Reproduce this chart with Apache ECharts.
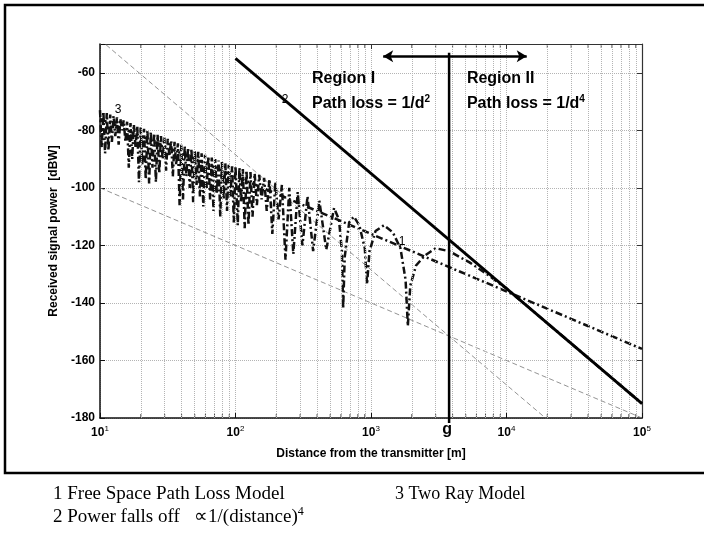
<!DOCTYPE html>
<html><head><meta charset="utf-8">
<script src="https://cdn.jsdelivr.net/npm/echarts@6/dist/echarts.min.js"></script>
<style>html,body{margin:0;padding:0;background:#fff}#c{width:704px;height:537px}</style>
</head><body><div id="c"></div>
<script>
// ---- data ----
const xMinorTicks = [20,30,40,50,60,70,80,90,200,300,400,500,600,700,800,900,2000,3000,4000,5000,6000,7000,8000,9000,20000,30000,40000,50000,60000,70000,80000,90000];
const yTickValues = [-180,-160,-140,-120,-100,-80,-60];
const freeSpaceDist = [10, 100000];
const freeSpaceDb = [-76, -156];
const fourthPowerDist = [100, 100000];
const fourthPowerDb = [-55, -175];
const refADist = [10, 100000];
const refADb = [-48.5, -208.5];
const refBDist = [10, 100000];
const refBDb = [-100, -180];
const twoRayDist = [
 10,10.29,10.59,10.90,11.22,11.55,11.89,12.24,12.59,12.96,13.34,13.73,14.13,14.54,14.96,15.40,15.85,16.31,16.79,17.28,
 17.78,18.30,18.84,19.39,19.95,20.53,21.13,21.75,22.39,23.04,23.71,24.40,25.12,25.85,26.61,27.39,28.18,29.00,29.85,30.72,
 31.62,32.54,33.50,34.48,35.48,36.52,37.58,38.68,39.81,40.97,42.17,43.40,44.67,45.97,47.32,48.70,50.12,51.58,53.09,54.64,
 56.23,57.87,59.57,61.31,63.10,64.94,66.83,68.78,70.79,72.86,74.99,77.18,79.43,81.75,84.14,86.60,89.13,91.73,94.41,97.17,
 100,103.9,106.9,110,113.3,116.9,120.6,124.7,129,133.6,138.5,143.8,149.6,155.8,162.6,170,178.1,187,196.8,207.8,
 220,233.8,249.3,267.1,287.7,311.7,340,374,415.6,467.5,534,580,610,623,640,690,748,820,900,935,
 975,1080,1247,1450,1650,1800,1870,1950,2150,2500,3000,3770,5370,7180,10000,100000];
const twoRayDb = [
 -73,-86,-73.5,-88,-74,-87,-74.5,-84,-75,-82,-75.5,-85,-76,-80,-76.5,-84,-77,-93,-77.5,-90,
 -78,-86,-78.5,-98,-79,-92,-79.5,-97,-80,-98.5,-80.5,-93,-81,-98,-81.5,-95,-82,-90,-82.5,-94,
 -83,-89,-83.5,-96,-84,-92,-84.5,-106,-85,-104,-85.5,-96,-86,-100,-86.5,-105,-87,-99,-87.5,-103,
 -88,-106.5,-88.5,-100,-89,-104,-89.5,-108,-90,-102,-90.5,-110,-91,-104,-91.5,-108,-92,-103,-92.5,-112,
 -92.5,-113,-93,-105,-93.5,-114,-94,-113,-94.5,-110,-95,-106,-95.5,-104,-96.5,-108,-97,-116,-98,-111,
 -99,-125,-100,-123,-101.5,-120,-103,-122,-104.5,-121.5,-107,-111,-122,-142,-124,-112,-110,-113,-121,-133.5,
 -122,-115,-113,-115.5,-121,-132,-148,-134,-127,-123.5,-121,-122,-126,-130,-135,-175];
const crossoverDist = 3770;
const crossoverTopDb = -53;
const arrowDist = [1230, 14100];
const arrowDb = -54.3;

const FONT = '"Liberation Sans", Arial, sans-serif';
const SERIF = '"Liberation Serif", "Times New Roman", serif';
const zip = (a, b) => a.map((v, i) => [v, b[i]]);
const dashDot = [7, 3, 2, 3];

const chart = echarts.init(document.getElementById('c'), null, {renderer: 'canvas'});
const gridLine = {type: 'dotted', color: '#b4b4b4', width: 1};

chart.setOption({
  animation: false,
  backgroundColor: '#fff',
  grid: {left: 100, top: 44, right: 62, bottom: 119, containLabel: false},
  xAxis: [{
    type: 'log', logBase: 10, min: 10, max: 100000,
    axisLine: {onZero: false, lineStyle: {color: '#111', width: 1.5}},
    axisTick: {inside: true, length: 5, lineStyle: {color: '#111'}},
    splitLine: {show: true, lineStyle: gridLine},
    axisLabel: {
      margin: 7, color: '#000',
      formatter: v => '{b|10}{s|' + Math.round(Math.log10(v)) + '}',
      rich: {
        b: {fontFamily: FONT, fontWeight: 'bold', fontSize: 12, lineHeight: 16, color: '#000'},
        s: {fontFamily: FONT, fontSize: 8, verticalAlign: 'top', lineHeight: 8, color: '#000'}
      }
    },
    name: 'Distance from the transmitter [m]', nameLocation: 'middle', nameGap: 30,
    nameTextStyle: {fontFamily: FONT, fontWeight: 'bold', fontSize: 12, color: '#000'}
  }, {
    type: 'log', logBase: 10, min: 10, max: 100000, position: 'top',
    axisLine: {onZero: false, lineStyle: {color: '#333', width: 1.2}},
    axisTick: {inside: true, length: 5, lineStyle: {color: '#333'}},
    axisLabel: {show: false}, splitLine: {show: false}
  }],
  yAxis: [{
    type: 'value', min: -180, max: -50, interval: 20,
    axisLine: {show: true, onZero: false, lineStyle: {color: '#111', width: 1.5}},
    axisTick: {show: true, inside: true, length: 5, lineStyle: {color: '#111'}},
    splitLine: {show: true, lineStyle: gridLine},
    axisLabel: {
      margin: 5, color: '#000', fontFamily: FONT, fontWeight: 'bold', fontSize: 12,
      formatter: v => (yTickValues.indexOf(v) >= 0 ? String(v) : '')
    },
    name: 'Received signal power  [dBW]', nameLocation: 'middle', nameGap: 33,
    nameTextStyle: {fontFamily: FONT, fontWeight: 'bold', fontSize: 12, color: '#000'}
  }, {
    type: 'value', min: -180, max: -50, interval: 20, position: 'right',
    axisLine: {show: true, onZero: false, lineStyle: {color: '#333', width: 1.2}},
    axisTick: {show: true, inside: true, length: 5, lineStyle: {color: '#333'}},
    axisLabel: {show: false}, splitLine: {show: false}
  }],
  series: [
    {
      type: 'scatter', silent: true, symbol: 'rect', symbolSize: [1, 4], symbolOffset: [0, -2],
      itemStyle: {color: '#222'}, data: xMinorTicks.map(d => [d, -180]), z: 3
    },
    {
      type: 'scatter', silent: true, symbol: 'rect', symbolSize: [1, 4], symbolOffset: [0, 2],
      itemStyle: {color: '#222'}, data: xMinorTicks.map(d => [d, -50]), z: 3
    },
    {
      type: 'line', silent: true, showSymbol: false, data: zip(refBDist, refBDb),
      lineStyle: {color: '#777', width: 0.8, type: [5, 3]},
      markLine: {
        silent: true, symbol: ['none', 'none'], label: {show: false},
        lineStyle: gridLine,
        data: xMinorTicks.map(d => ({xAxis: d}))
      }, z: 2
    },
    {
      type: 'line', silent: true, showSymbol: false, data: zip(refADist, refADb),
      lineStyle: {color: '#777', width: 0.8, type: [5, 3]}, z: 2
    },
    {
      type: 'line', silent: true, showSymbol: false, data: zip(freeSpaceDist, freeSpaceDb),
      lineStyle: {color: '#111', width: 2.5, type: dashDot}, z: 4
    },
    {
      type: 'line', silent: true, showSymbol: false, data: zip(twoRayDist, twoRayDb),
      lineStyle: {color: '#111', width: 2.5, type: dashDot}, z: 4
    },
    {
      type: 'line', silent: true, showSymbol: false, data: zip(fourthPowerDist, fourthPowerDb),
      lineStyle: {color: '#000', width: 2.8, type: 'solid'}, z: 5
    },
    {
      type: 'line', silent: true, showSymbol: false,
      data: [[crossoverDist, -180], [crossoverDist, crossoverTopDb]],
      lineStyle: {color: '#000', width: 2.5}, z: 5,
      markLine: {
        silent: true, symbol: ['arrow', 'arrow'], symbolSize: [9, 10], label: {show: false},
        lineStyle: {color: '#000', width: 2.5, type: 'solid'},
        data: [[{coord: [arrowDist[0], arrowDb]}, {coord: [arrowDist[1], arrowDb]}]]
      }
    }
  ]
});

const px = (d, v) => chart.convertToPixel({xAxisIndex: 0, yAxisIndex: 0}, [d, v]);
const bold = {fontFamily: FONT, fontWeight: 'bold', fill: '#000'};
function txt(pos, text, extra) {
  return {type: 'text', x: pos[0], y: pos[1], z: 100,
    style: Object.assign({text: text, fontFamily: FONT, fill: '#000'}, extra)};
}
const supRich = {s: {fontFamily: FONT, fontWeight: 'bold', fontSize: 10, verticalAlign: 'top', lineHeight: 10}};
const pReg1 = px(367, -62), pLoss1 = px(367, -70.7), pReg2 = px(5100, -62), pLoss2 = px(5100, -70.7);
const pG = px(crossoverDist, -180);
chart.setOption({
  graphic: [
    {type: 'rect', z: 0, shape: {x: 5, y: 5, width: 720, height: 468},
      style: {fill: 'none', stroke: '#000', lineWidth: 2.5}},
    {type: 'line', z: 50, shape: {x1: pG[0], y1: pG[1], x2: pG[0], y2: pG[1] + 5}, style: {stroke: '#000', lineWidth: 2.5}},
    txt(pReg1, 'Region I', Object.assign({}, bold, {fontSize: 16, verticalAlign: 'middle'})),
    txt(pLoss1, 'Path loss = 1/d{s|2}', Object.assign({}, bold, {fontSize: 16, verticalAlign: 'middle', lineHeight: 18, rich: supRich})),
    txt(pReg2, 'Region II', Object.assign({}, bold, {fontSize: 16, verticalAlign: 'middle'})),
    txt(pLoss2, 'Path loss = 1/d{s|4}', Object.assign({}, bold, {fontSize: 16, verticalAlign: 'middle', lineHeight: 18, rich: supRich})),
    txt(px(13.6, -72.8), '3', {fontSize: 12, align: 'center', verticalAlign: 'middle'}),
    txt(px(232, -69.3), '2', {fontSize: 12, align: 'center', verticalAlign: 'middle'}),
    txt(px(1694, -118.6), '1', {fontSize: 12, align: 'center', verticalAlign: 'middle'}),
    txt([pG[0] - 2, pG[1] + 12], 'g', Object.assign({}, bold, {fontSize: 16, align: 'center', verticalAlign: 'middle'})),
    {type: 'text', x: 53, y: 494, style: {text: '1 Free Space Path Loss Model', fontFamily: SERIF, fontSize: 19, fill: '#000', verticalAlign: 'middle'}},
    {type: 'text', x: 395, y: 494, style: {text: '3 Two Ray Model', fontFamily: SERIF, fontSize: 18, fill: '#000', verticalAlign: 'middle'}},
    {type: 'text', x: 53, y: 517, style: {text: '2 Power falls off   \u221D1/(distance){p|4}', fontFamily: SERIF, fontSize: 19, fill: '#000', verticalAlign: 'middle', lineHeight: 22,
      rich: {p: {fontFamily: SERIF, fontSize: 12, verticalAlign: 'top', lineHeight: 12}}}}
  ]
});
</script>
</body></html>
